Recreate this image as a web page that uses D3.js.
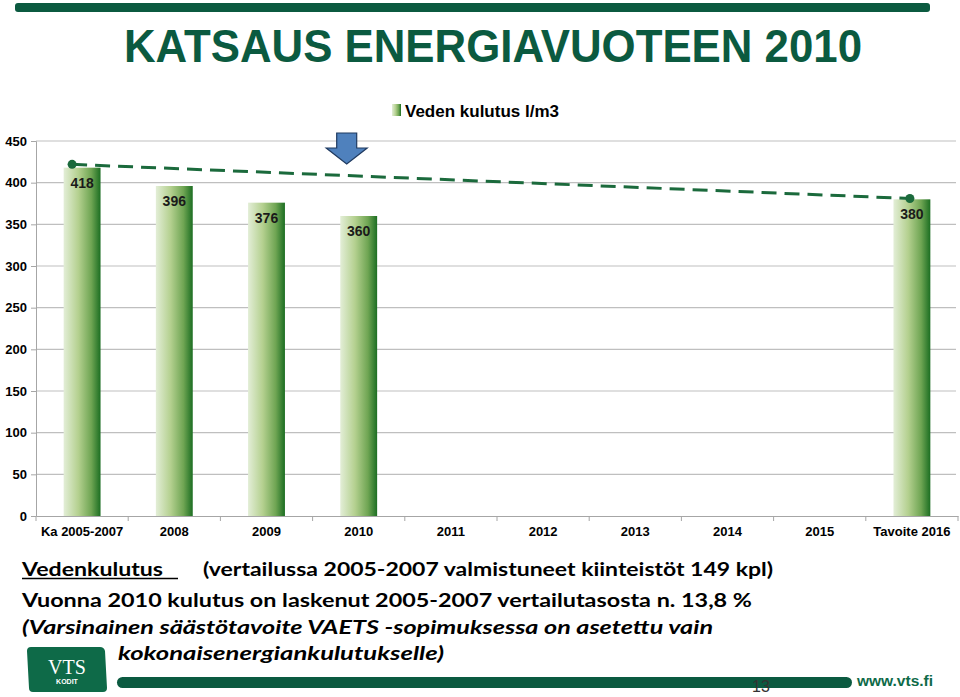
<!DOCTYPE html>
<html><head><meta charset="utf-8">
<script src="https://cdn.jsdelivr.net/npm/d3@7"></script>
<style>html,body{margin:0;padding:0;background:#fff;}svg{display:block;}</style>
</head><body>
<svg id="chart" width="960" height="697"></svg>
<script>
// ---- data ----
const categories = ["Ka 2005-2007","2008","2009","2010","2011","2012","2013","2014","2015","Tavoite 2016"];
const values = [418, 396, 376, 360, null, null, null, null, null, 380];
const yTicks = [0, 50, 100, 150, 200, 250, 300, 350, 400, 450];
const trendCats = ["Ka 2005-2007", "Tavoite 2016"];
const trendValues = [422, 381];
const highlightCat = "2010";
const seriesName = "Veden kulutus l/m3";
const titleText = "KATSAUS ENERGIAVUOTEEN 2010";
const noteLines = [
  "(vertailussa 2005-2007 valmistuneet kiinteistöt 149 kpl)",
  "Vuonna 2010 kulutus on laskenut  2005-2007 vertailutasosta n. 13,8 %",
  "(Varsinainen säästötavoite VAETS -sopimuksessa on asetettu vain",
  "kokonaisenergiankulutukselle)"
];
const noteHeading = "Vedenkulutus";

const svg = d3.select("#chart");
const green = "#0b5a40";

// gradient
const defs = svg.append("defs");
const g1 = defs.append("linearGradient").attr("id","barGrad").attr("x1","0").attr("x2","1").attr("y1","0").attr("y2","0");
[["0%","#e3eed7"],["40%","#b4d08f"],["75%","#6fa553"],["100%","#1c6e22"]].forEach(s=>g1.append("stop").attr("offset",s[0]).attr("stop-color",s[1]));

// top bar
svg.append("rect").attr("x",15).attr("y",3).attr("width",915).attr("height",9).attr("rx",3).attr("fill",green);
// title
svg.append("text").attr("x",124).attr("y",62).attr("textLength",738).attr("lengthAdjust","spacingAndGlyphs")
  .attr("font-family","'Liberation Sans Narrow','Arial Narrow','Liberation Sans',Arial,sans-serif")
  .attr("font-weight","bold").attr("font-size",47).attr("fill",green).text(titleText);

// scales
const x = d3.scaleBand().domain(categories).range([36, 958]).paddingInner(0.6).paddingOuter(0.3);
const xb = d3.scaleBand().domain(categories).range([36, 958]);
const y = d3.scaleLinear().domain([0, 450]).range([516, 141]);

// gridlines
svg.append("g").selectAll("line").data(yTicks.filter(t=>t>0)).join("line")
  .attr("x1",36).attr("x2",956).attr("y1",d=>y(d)).attr("y2",d=>y(d))
  .attr("stroke","#bfbfbf").attr("stroke-width",1.2);

// y axis
const yAxis = svg.append("g").attr("transform","translate(36,0)")
  .call(d3.axisLeft(y).tickValues(yTicks).tickSize(5).tickPadding(4));
yAxis.select(".domain").attr("stroke","#a6a6a6");
yAxis.selectAll(".tick line").attr("stroke","#a6a6a6");
yAxis.selectAll("text").attr("font-family","'Liberation Sans',Arial,sans-serif").attr("font-weight","bold").attr("font-size",13).attr("fill","#000");

// x axis
const xAxis = svg.append("g").attr("transform","translate(0,516)")
  .call(d3.axisBottom(xb).tickSize(0).tickPadding(11));
xAxis.select(".domain").attr("stroke","#a6a6a6");
xAxis.selectAll("text").attr("font-family","'Liberation Sans',Arial,sans-serif").attr("font-weight","bold").attr("font-size",13).attr("fill","#000");
svg.append("g").selectAll("line").data(categories.slice(1).concat(["__end"])).join("line")
  .attr("x1",(d,i)=> i < categories.length-1 ? xb(d) : xb.range()[1])
  .attr("x2",(d,i)=> i < categories.length-1 ? xb(d) : xb.range()[1])
  .attr("y1",516).attr("y2",521).attr("stroke","#a6a6a6");
svg.append("line").attr("x1",36).attr("x2",36).attr("y1",516).attr("y2",521).attr("stroke","#a6a6a6");

// bars
const barData = categories.map((c,i)=>({c, v: values[i]})).filter(d=>d.v!=null);
svg.append("g").selectAll("rect").data(barData).join("rect")
  .attr("x",d=>x(d.c)).attr("width",x.bandwidth())
  .attr("y",d=>y(d.v)).attr("height",d=>y(0)-y(d.v))
  .attr("fill","url(#barGrad)");
svg.append("g").selectAll("text").data(barData).join("text")
  .attr("x",d=>x(d.c)+x.bandwidth()/2).attr("y",d=>y(d.v)+20)
  .attr("text-anchor","middle").attr("font-family","'Liberation Sans',Arial,sans-serif")
  .attr("font-weight","bold").attr("font-size",14).attr("fill","#1a1a1a").text(d=>d.v);

// trend line
const trend = trendCats.map((c,i)=>({c, v: trendValues[i]}));
const tx = d=> xb(d.c)+xb.bandwidth()/2 + (d.c===trendCats[0] ? -10 : -2);
svg.append("line").attr("x1",tx(trend[0])).attr("y1",y(trend[0].v)).attr("x2",tx(trend[1])).attr("y2",y(trend[1].v))
  .attr("stroke","#1b6a3c").attr("stroke-width",3).attr("stroke-dasharray","15,8");
svg.append("g").selectAll("circle").data(trend).join("circle")
  .attr("cx",tx).attr("cy",d=>y(d.v)).attr("r",4.5).attr("fill","#1b6a3c");

// arrow over highlighted category
const ax = xb(highlightCat)+xb.bandwidth()/2 - 12;
const at = 133;
svg.append("path")
  .attr("d",`M${ax-10},${at} L${ax+10},${at} L${ax+10},${at+15} L${ax+20.5},${at+15} L${ax},${at+31} L${ax-20.5},${at+15} L${ax-10},${at+15} Z`)
  .attr("fill","#4f81bd").attr("stroke","#1f3a60").attr("stroke-width",1.2);

// legend
svg.append("rect").attr("x",392).attr("y",104).attr("width",9).attr("height",12).attr("fill","url(#barGrad)");
svg.append("text").attr("x",405).attr("y",117).attr("font-family","'Liberation Sans',Arial,sans-serif")
  .attr("font-weight","bold").attr("font-size",17).attr("fill","#000").text(seriesName);

// notes
const bodyFont = "Lato,'DejaVu Sans',sans-serif";
svg.append("text").attr("x",22).attr("y",576).attr("textLength",141).attr("lengthAdjust","spacingAndGlyphs")
  .attr("font-family",bodyFont).attr("font-weight","bold").attr("font-size",19).text(noteHeading);
svg.append("line").attr("x1",22).attr("x2",178).attr("y1",578.5).attr("y2",578.5).attr("stroke","#000").attr("stroke-width",1.5);
const noteSpecs = [
  {x:203, y:576, w:570, italic:false},
  {x:22, y:607, w:730, italic:false},
  {x:22, y:634, w:691, italic:true},
  {x:118, y:660, w:326, italic:true}
];
noteLines.forEach((t,i)=>{
  const s = noteSpecs[i];
  svg.append("text").attr("x",s.x).attr("y",s.y).attr("textLength",s.w).attr("lengthAdjust","spacingAndGlyphs")
    .attr("font-family",bodyFont).attr("font-weight","bold").attr("font-style",s.italic?"italic":"normal")
    .attr("font-size",19).attr("fill","#000").text(t);
});

// footer
svg.append("path").attr("d","M29,647 L100,647 Q104,647 105,651 L107,688 Q107,692 103,692 L33,692 Q29,692 29,688 L27,651 Q27,647 31,647 Z").attr("fill","#0e6a48");
svg.append("text").attr("x",67).attr("y",674).attr("text-anchor","middle").attr("font-family","'Liberation Serif','DejaVu Serif',serif")
  .attr("font-size",20).attr("fill","#fff").text("VTS");
svg.append("text").attr("x",67).attr("y",684).attr("text-anchor","middle").attr("font-family","'Liberation Sans',Arial,sans-serif")
  .attr("font-weight","bold").attr("font-size",7).attr("fill","#fff").text("KODIT");
svg.append("rect").attr("x",117).attr("y",677).attr("width",735).attr("height",11).attr("rx",5.5).attr("fill",green);
svg.append("text").attr("x",752).attr("y",692).attr("font-family","'Liberation Sans',Arial,sans-serif")
  .attr("font-size",16).attr("fill","#333").text("13");
svg.append("text").attr("x",857).attr("y",686).attr("textLength",76).attr("lengthAdjust","spacingAndGlyphs")
  .attr("font-family","'Liberation Sans',Arial,sans-serif").attr("font-weight","bold").attr("font-size",15).attr("fill","#0e6a48").text("www.vts.fi");
</script>
</body></html>
